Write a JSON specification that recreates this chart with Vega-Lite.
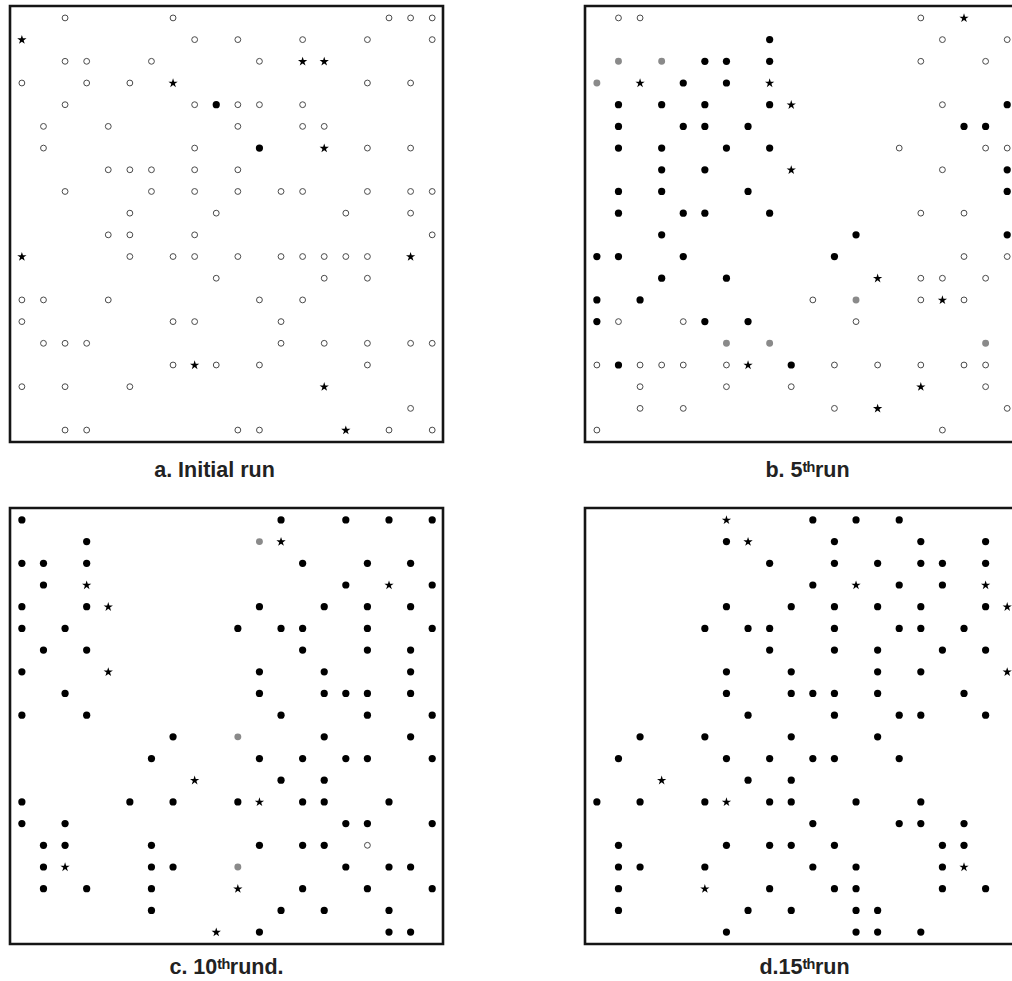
{
 "$schema": "https://vega.github.io/schema/vega-lite/v6.json",
 "padding": {"left": 8, "top": 4, "right": 0, "bottom": 0},
 "background": "white",
 "bounds": "flush",
 "columns": 2,
 "spacing": {"row": 66, "column": 142},
 "config": {
  "view": {"stroke": "#151515", "strokeWidth": 2.6},
  "title": {"font": "Liberation Sans", "fontSize": 21.5, "fontWeight": "bold", "color": "#222222", "orient": "bottom", "anchor": "middle", "baseline": "alphabetic"}
 },
 "datasets": {"pts": [
  {"p":"a","r":0,"c":2,"t":"o"},{"p":"a","r":0,"c":7,"t":"o"},{"p":"a","r":0,"c":17,"t":"o"},{"p":"a","r":0,"c":18,"t":"o"},{"p":"a","r":0,"c":19,"t":"o"},
  {"p":"a","r":1,"c":0,"t":"s"},{"p":"a","r":1,"c":8,"t":"o"},{"p":"a","r":1,"c":10,"t":"o"},{"p":"a","r":1,"c":13,"t":"o"},{"p":"a","r":1,"c":16,"t":"o"},{"p":"a","r":1,"c":19,"t":"o"},
  {"p":"a","r":2,"c":2,"t":"o"},{"p":"a","r":2,"c":3,"t":"o"},{"p":"a","r":2,"c":6,"t":"o"},{"p":"a","r":2,"c":11,"t":"o"},{"p":"a","r":2,"c":13,"t":"s"},{"p":"a","r":2,"c":14,"t":"s"},
  {"p":"a","r":3,"c":0,"t":"o"},{"p":"a","r":3,"c":3,"t":"o"},{"p":"a","r":3,"c":5,"t":"o"},{"p":"a","r":3,"c":7,"t":"s"},{"p":"a","r":3,"c":16,"t":"o"},{"p":"a","r":3,"c":18,"t":"o"},
  {"p":"a","r":4,"c":2,"t":"o"},{"p":"a","r":4,"c":8,"t":"o"},{"p":"a","r":4,"c":9,"t":"f"},{"p":"a","r":4,"c":10,"t":"o"},{"p":"a","r":4,"c":11,"t":"o"},{"p":"a","r":4,"c":13,"t":"o"},
  {"p":"a","r":5,"c":1,"t":"o"},{"p":"a","r":5,"c":4,"t":"o"},{"p":"a","r":5,"c":10,"t":"o"},{"p":"a","r":5,"c":13,"t":"o"},{"p":"a","r":5,"c":14,"t":"o"},
  {"p":"a","r":6,"c":1,"t":"o"},{"p":"a","r":6,"c":8,"t":"o"},{"p":"a","r":6,"c":11,"t":"f"},{"p":"a","r":6,"c":14,"t":"s"},{"p":"a","r":6,"c":16,"t":"o"},{"p":"a","r":6,"c":18,"t":"o"},
  {"p":"a","r":7,"c":4,"t":"o"},{"p":"a","r":7,"c":5,"t":"o"},{"p":"a","r":7,"c":6,"t":"o"},{"p":"a","r":7,"c":8,"t":"o"},{"p":"a","r":7,"c":10,"t":"o"},
  {"p":"a","r":8,"c":2,"t":"o"},{"p":"a","r":8,"c":6,"t":"o"},{"p":"a","r":8,"c":8,"t":"o"},{"p":"a","r":8,"c":10,"t":"o"},{"p":"a","r":8,"c":12,"t":"o"},{"p":"a","r":8,"c":13,"t":"o"},{"p":"a","r":8,"c":16,"t":"o"},{"p":"a","r":8,"c":18,"t":"o"},{"p":"a","r":8,"c":19,"t":"o"},
  {"p":"a","r":9,"c":5,"t":"o"},{"p":"a","r":9,"c":9,"t":"o"},{"p":"a","r":9,"c":15,"t":"o"},{"p":"a","r":9,"c":18,"t":"o"},
  {"p":"a","r":10,"c":4,"t":"o"},{"p":"a","r":10,"c":5,"t":"o"},{"p":"a","r":10,"c":8,"t":"o"},{"p":"a","r":10,"c":19,"t":"o"},
  {"p":"a","r":11,"c":0,"t":"s"},{"p":"a","r":11,"c":5,"t":"o"},{"p":"a","r":11,"c":7,"t":"o"},{"p":"a","r":11,"c":8,"t":"o"},{"p":"a","r":11,"c":10,"t":"o"},{"p":"a","r":11,"c":12,"t":"o"},{"p":"a","r":11,"c":13,"t":"o"},{"p":"a","r":11,"c":14,"t":"o"},{"p":"a","r":11,"c":15,"t":"o"},{"p":"a","r":11,"c":16,"t":"o"},{"p":"a","r":11,"c":18,"t":"s"},
  {"p":"a","r":12,"c":9,"t":"o"},{"p":"a","r":12,"c":14,"t":"o"},{"p":"a","r":12,"c":16,"t":"o"},
  {"p":"a","r":13,"c":0,"t":"o"},{"p":"a","r":13,"c":1,"t":"o"},{"p":"a","r":13,"c":4,"t":"o"},{"p":"a","r":13,"c":11,"t":"o"},{"p":"a","r":13,"c":13,"t":"o"},
  {"p":"a","r":14,"c":0,"t":"o"},{"p":"a","r":14,"c":7,"t":"o"},{"p":"a","r":14,"c":8,"t":"o"},{"p":"a","r":14,"c":12,"t":"o"},
  {"p":"a","r":15,"c":1,"t":"o"},{"p":"a","r":15,"c":2,"t":"o"},{"p":"a","r":15,"c":3,"t":"o"},{"p":"a","r":15,"c":12,"t":"o"},{"p":"a","r":15,"c":14,"t":"o"},{"p":"a","r":15,"c":16,"t":"o"},{"p":"a","r":15,"c":18,"t":"o"},{"p":"a","r":15,"c":19,"t":"o"},
  {"p":"a","r":16,"c":7,"t":"o"},{"p":"a","r":16,"c":8,"t":"s"},{"p":"a","r":16,"c":9,"t":"o"},{"p":"a","r":16,"c":11,"t":"o"},{"p":"a","r":16,"c":16,"t":"o"},
  {"p":"a","r":17,"c":0,"t":"o"},{"p":"a","r":17,"c":2,"t":"o"},{"p":"a","r":17,"c":5,"t":"o"},{"p":"a","r":17,"c":14,"t":"s"},
  {"p":"a","r":18,"c":18,"t":"o"},
  {"p":"a","r":19,"c":2,"t":"o"},{"p":"a","r":19,"c":3,"t":"o"},{"p":"a","r":19,"c":10,"t":"o"},{"p":"a","r":19,"c":11,"t":"o"},{"p":"a","r":19,"c":15,"t":"s"},{"p":"a","r":19,"c":17,"t":"o"},{"p":"a","r":19,"c":19,"t":"o"},

  {"p":"b","r":0,"c":1,"t":"o"},{"p":"b","r":0,"c":2,"t":"o"},{"p":"b","r":0,"c":15,"t":"o"},{"p":"b","r":0,"c":17,"t":"s"},
  {"p":"b","r":1,"c":8,"t":"f"},{"p":"b","r":1,"c":16,"t":"o"},{"p":"b","r":1,"c":19,"t":"o"},
  {"p":"b","r":2,"c":1,"t":"g"},{"p":"b","r":2,"c":3,"t":"g"},{"p":"b","r":2,"c":5,"t":"f"},{"p":"b","r":2,"c":6,"t":"f"},{"p":"b","r":2,"c":8,"t":"f"},{"p":"b","r":2,"c":15,"t":"o"},{"p":"b","r":2,"c":18,"t":"o"},
  {"p":"b","r":3,"c":0,"t":"g"},{"p":"b","r":3,"c":2,"t":"s"},{"p":"b","r":3,"c":4,"t":"f"},{"p":"b","r":3,"c":6,"t":"f"},{"p":"b","r":3,"c":8,"t":"s"},
  {"p":"b","r":4,"c":1,"t":"f"},{"p":"b","r":4,"c":3,"t":"f"},{"p":"b","r":4,"c":5,"t":"f"},{"p":"b","r":4,"c":8,"t":"f"},{"p":"b","r":4,"c":9,"t":"s"},{"p":"b","r":4,"c":16,"t":"o"},{"p":"b","r":4,"c":19,"t":"f"},
  {"p":"b","r":5,"c":1,"t":"f"},{"p":"b","r":5,"c":4,"t":"f"},{"p":"b","r":5,"c":5,"t":"f"},{"p":"b","r":5,"c":7,"t":"f"},{"p":"b","r":5,"c":17,"t":"f"},{"p":"b","r":5,"c":18,"t":"f"},
  {"p":"b","r":6,"c":1,"t":"f"},{"p":"b","r":6,"c":3,"t":"f"},{"p":"b","r":6,"c":6,"t":"f"},{"p":"b","r":6,"c":8,"t":"f"},{"p":"b","r":6,"c":14,"t":"o"},{"p":"b","r":6,"c":18,"t":"o"},{"p":"b","r":6,"c":19,"t":"o"},
  {"p":"b","r":7,"c":3,"t":"f"},{"p":"b","r":7,"c":5,"t":"f"},{"p":"b","r":7,"c":9,"t":"s"},{"p":"b","r":7,"c":16,"t":"o"},{"p":"b","r":7,"c":19,"t":"f"},
  {"p":"b","r":8,"c":1,"t":"f"},{"p":"b","r":8,"c":3,"t":"f"},{"p":"b","r":8,"c":7,"t":"f"},{"p":"b","r":8,"c":19,"t":"f"},
  {"p":"b","r":9,"c":1,"t":"f"},{"p":"b","r":9,"c":4,"t":"f"},{"p":"b","r":9,"c":5,"t":"f"},{"p":"b","r":9,"c":8,"t":"f"},{"p":"b","r":9,"c":15,"t":"o"},{"p":"b","r":9,"c":17,"t":"o"},
  {"p":"b","r":10,"c":3,"t":"f"},{"p":"b","r":10,"c":12,"t":"f"},{"p":"b","r":10,"c":19,"t":"f"},
  {"p":"b","r":11,"c":0,"t":"f"},{"p":"b","r":11,"c":1,"t":"f"},{"p":"b","r":11,"c":4,"t":"f"},{"p":"b","r":11,"c":11,"t":"f"},{"p":"b","r":11,"c":17,"t":"o"},{"p":"b","r":11,"c":19,"t":"o"},
  {"p":"b","r":12,"c":3,"t":"f"},{"p":"b","r":12,"c":6,"t":"f"},{"p":"b","r":12,"c":13,"t":"s"},{"p":"b","r":12,"c":15,"t":"o"},{"p":"b","r":12,"c":16,"t":"o"},{"p":"b","r":12,"c":18,"t":"o"},
  {"p":"b","r":13,"c":0,"t":"f"},{"p":"b","r":13,"c":2,"t":"f"},{"p":"b","r":13,"c":10,"t":"o"},{"p":"b","r":13,"c":12,"t":"g"},{"p":"b","r":13,"c":15,"t":"o"},{"p":"b","r":13,"c":16,"t":"s"},{"p":"b","r":13,"c":17,"t":"o"},
  {"p":"b","r":14,"c":0,"t":"f"},{"p":"b","r":14,"c":1,"t":"o"},{"p":"b","r":14,"c":4,"t":"o"},{"p":"b","r":14,"c":5,"t":"f"},{"p":"b","r":14,"c":7,"t":"f"},{"p":"b","r":14,"c":12,"t":"o"},
  {"p":"b","r":15,"c":6,"t":"g"},{"p":"b","r":15,"c":8,"t":"g"},{"p":"b","r":15,"c":18,"t":"g"},
  {"p":"b","r":16,"c":0,"t":"o"},{"p":"b","r":16,"c":1,"t":"f"},{"p":"b","r":16,"c":2,"t":"o"},{"p":"b","r":16,"c":3,"t":"o"},{"p":"b","r":16,"c":4,"t":"o"},{"p":"b","r":16,"c":6,"t":"o"},{"p":"b","r":16,"c":7,"t":"s"},{"p":"b","r":16,"c":9,"t":"f"},{"p":"b","r":16,"c":11,"t":"o"},{"p":"b","r":16,"c":13,"t":"o"},{"p":"b","r":16,"c":15,"t":"o"},{"p":"b","r":16,"c":17,"t":"o"},{"p":"b","r":16,"c":18,"t":"o"},
  {"p":"b","r":17,"c":2,"t":"o"},{"p":"b","r":17,"c":6,"t":"o"},{"p":"b","r":17,"c":9,"t":"o"},{"p":"b","r":17,"c":15,"t":"s"},{"p":"b","r":17,"c":18,"t":"o"},
  {"p":"b","r":18,"c":2,"t":"o"},{"p":"b","r":18,"c":4,"t":"o"},{"p":"b","r":18,"c":11,"t":"o"},{"p":"b","r":18,"c":13,"t":"s"},{"p":"b","r":18,"c":19,"t":"o"},
  {"p":"b","r":19,"c":0,"t":"o"},{"p":"b","r":19,"c":16,"t":"o"},

  {"p":"c","r":0,"c":0,"t":"f"},{"p":"c","r":0,"c":12,"t":"f"},{"p":"c","r":0,"c":15,"t":"f"},{"p":"c","r":0,"c":17,"t":"f"},{"p":"c","r":0,"c":19,"t":"f"},
  {"p":"c","r":1,"c":3,"t":"f"},{"p":"c","r":1,"c":11,"t":"g"},{"p":"c","r":1,"c":12,"t":"s"},
  {"p":"c","r":2,"c":0,"t":"f"},{"p":"c","r":2,"c":1,"t":"f"},{"p":"c","r":2,"c":3,"t":"f"},{"p":"c","r":2,"c":13,"t":"f"},{"p":"c","r":2,"c":16,"t":"f"},{"p":"c","r":2,"c":18,"t":"f"},
  {"p":"c","r":3,"c":1,"t":"f"},{"p":"c","r":3,"c":3,"t":"s"},{"p":"c","r":3,"c":15,"t":"f"},{"p":"c","r":3,"c":17,"t":"s"},{"p":"c","r":3,"c":19,"t":"f"},
  {"p":"c","r":4,"c":0,"t":"f"},{"p":"c","r":4,"c":3,"t":"f"},{"p":"c","r":4,"c":4,"t":"s"},{"p":"c","r":4,"c":11,"t":"f"},{"p":"c","r":4,"c":14,"t":"f"},{"p":"c","r":4,"c":16,"t":"f"},{"p":"c","r":4,"c":18,"t":"f"},
  {"p":"c","r":5,"c":0,"t":"f"},{"p":"c","r":5,"c":2,"t":"f"},{"p":"c","r":5,"c":10,"t":"f"},{"p":"c","r":5,"c":12,"t":"f"},{"p":"c","r":5,"c":13,"t":"f"},{"p":"c","r":5,"c":16,"t":"f"},{"p":"c","r":5,"c":19,"t":"f"},
  {"p":"c","r":6,"c":1,"t":"f"},{"p":"c","r":6,"c":3,"t":"f"},{"p":"c","r":6,"c":13,"t":"f"},{"p":"c","r":6,"c":16,"t":"f"},{"p":"c","r":6,"c":18,"t":"f"},
  {"p":"c","r":7,"c":0,"t":"f"},{"p":"c","r":7,"c":4,"t":"s"},{"p":"c","r":7,"c":11,"t":"f"},{"p":"c","r":7,"c":14,"t":"f"},{"p":"c","r":7,"c":18,"t":"f"},
  {"p":"c","r":8,"c":2,"t":"f"},{"p":"c","r":8,"c":11,"t":"f"},{"p":"c","r":8,"c":14,"t":"f"},{"p":"c","r":8,"c":15,"t":"f"},{"p":"c","r":8,"c":16,"t":"f"},{"p":"c","r":8,"c":18,"t":"f"},
  {"p":"c","r":9,"c":0,"t":"f"},{"p":"c","r":9,"c":3,"t":"f"},{"p":"c","r":9,"c":12,"t":"f"},{"p":"c","r":9,"c":16,"t":"f"},{"p":"c","r":9,"c":19,"t":"f"},
  {"p":"c","r":10,"c":7,"t":"f"},{"p":"c","r":10,"c":10,"t":"g"},{"p":"c","r":10,"c":14,"t":"f"},{"p":"c","r":10,"c":18,"t":"f"},
  {"p":"c","r":11,"c":6,"t":"f"},{"p":"c","r":11,"c":11,"t":"f"},{"p":"c","r":11,"c":13,"t":"f"},{"p":"c","r":11,"c":15,"t":"f"},{"p":"c","r":11,"c":16,"t":"f"},{"p":"c","r":11,"c":19,"t":"f"},
  {"p":"c","r":12,"c":8,"t":"s"},{"p":"c","r":12,"c":12,"t":"f"},{"p":"c","r":12,"c":14,"t":"f"},
  {"p":"c","r":13,"c":0,"t":"f"},{"p":"c","r":13,"c":5,"t":"f"},{"p":"c","r":13,"c":7,"t":"f"},{"p":"c","r":13,"c":10,"t":"f"},{"p":"c","r":13,"c":11,"t":"s"},{"p":"c","r":13,"c":13,"t":"f"},{"p":"c","r":13,"c":14,"t":"f"},{"p":"c","r":13,"c":17,"t":"f"},
  {"p":"c","r":14,"c":0,"t":"f"},{"p":"c","r":14,"c":2,"t":"f"},{"p":"c","r":14,"c":15,"t":"f"},{"p":"c","r":14,"c":16,"t":"f"},{"p":"c","r":14,"c":19,"t":"f"},
  {"p":"c","r":15,"c":1,"t":"f"},{"p":"c","r":15,"c":2,"t":"f"},{"p":"c","r":15,"c":6,"t":"f"},{"p":"c","r":15,"c":11,"t":"f"},{"p":"c","r":15,"c":13,"t":"f"},{"p":"c","r":15,"c":14,"t":"f"},{"p":"c","r":15,"c":16,"t":"o"},
  {"p":"c","r":16,"c":1,"t":"f"},{"p":"c","r":16,"c":2,"t":"s"},{"p":"c","r":16,"c":6,"t":"f"},{"p":"c","r":16,"c":7,"t":"f"},{"p":"c","r":16,"c":10,"t":"g"},{"p":"c","r":16,"c":15,"t":"f"},{"p":"c","r":16,"c":17,"t":"f"},{"p":"c","r":16,"c":18,"t":"f"},
  {"p":"c","r":17,"c":1,"t":"f"},{"p":"c","r":17,"c":3,"t":"f"},{"p":"c","r":17,"c":6,"t":"f"},{"p":"c","r":17,"c":10,"t":"s"},{"p":"c","r":17,"c":13,"t":"f"},{"p":"c","r":17,"c":16,"t":"f"},{"p":"c","r":17,"c":19,"t":"f"},
  {"p":"c","r":18,"c":6,"t":"f"},{"p":"c","r":18,"c":12,"t":"f"},{"p":"c","r":18,"c":14,"t":"f"},{"p":"c","r":18,"c":17,"t":"f"},
  {"p":"c","r":19,"c":9,"t":"s"},{"p":"c","r":19,"c":11,"t":"f"},{"p":"c","r":19,"c":17,"t":"f"},{"p":"c","r":19,"c":18,"t":"f"},

  {"p":"d","r":0,"c":6,"t":"s"},{"p":"d","r":0,"c":10,"t":"f"},{"p":"d","r":0,"c":12,"t":"f"},{"p":"d","r":0,"c":14,"t":"f"},
  {"p":"d","r":1,"c":6,"t":"f"},{"p":"d","r":1,"c":7,"t":"s"},{"p":"d","r":1,"c":11,"t":"f"},{"p":"d","r":1,"c":15,"t":"f"},{"p":"d","r":1,"c":18,"t":"f"},
  {"p":"d","r":2,"c":8,"t":"f"},{"p":"d","r":2,"c":11,"t":"f"},{"p":"d","r":2,"c":13,"t":"f"},{"p":"d","r":2,"c":15,"t":"f"},{"p":"d","r":2,"c":16,"t":"f"},{"p":"d","r":2,"c":18,"t":"f"},
  {"p":"d","r":3,"c":10,"t":"f"},{"p":"d","r":3,"c":12,"t":"s"},{"p":"d","r":3,"c":14,"t":"f"},{"p":"d","r":3,"c":16,"t":"f"},{"p":"d","r":3,"c":18,"t":"s"},
  {"p":"d","r":4,"c":6,"t":"f"},{"p":"d","r":4,"c":9,"t":"f"},{"p":"d","r":4,"c":11,"t":"f"},{"p":"d","r":4,"c":13,"t":"f"},{"p":"d","r":4,"c":15,"t":"f"},{"p":"d","r":4,"c":18,"t":"f"},{"p":"d","r":4,"c":19,"t":"s"},
  {"p":"d","r":5,"c":5,"t":"f"},{"p":"d","r":5,"c":7,"t":"f"},{"p":"d","r":5,"c":8,"t":"f"},{"p":"d","r":5,"c":11,"t":"f"},{"p":"d","r":5,"c":14,"t":"f"},{"p":"d","r":5,"c":15,"t":"f"},{"p":"d","r":5,"c":17,"t":"f"},
  {"p":"d","r":6,"c":8,"t":"f"},{"p":"d","r":6,"c":11,"t":"f"},{"p":"d","r":6,"c":13,"t":"f"},{"p":"d","r":6,"c":16,"t":"f"},{"p":"d","r":6,"c":18,"t":"f"},
  {"p":"d","r":7,"c":6,"t":"f"},{"p":"d","r":7,"c":9,"t":"f"},{"p":"d","r":7,"c":13,"t":"f"},{"p":"d","r":7,"c":15,"t":"f"},{"p":"d","r":7,"c":19,"t":"s"},
  {"p":"d","r":8,"c":6,"t":"f"},{"p":"d","r":8,"c":9,"t":"f"},{"p":"d","r":8,"c":10,"t":"f"},{"p":"d","r":8,"c":11,"t":"f"},{"p":"d","r":8,"c":13,"t":"f"},{"p":"d","r":8,"c":17,"t":"f"},
  {"p":"d","r":9,"c":7,"t":"f"},{"p":"d","r":9,"c":11,"t":"f"},{"p":"d","r":9,"c":14,"t":"f"},{"p":"d","r":9,"c":15,"t":"f"},{"p":"d","r":9,"c":18,"t":"f"},
  {"p":"d","r":10,"c":2,"t":"f"},{"p":"d","r":10,"c":5,"t":"f"},{"p":"d","r":10,"c":9,"t":"f"},{"p":"d","r":10,"c":13,"t":"f"},
  {"p":"d","r":11,"c":1,"t":"f"},{"p":"d","r":11,"c":6,"t":"f"},{"p":"d","r":11,"c":8,"t":"f"},{"p":"d","r":11,"c":10,"t":"f"},{"p":"d","r":11,"c":11,"t":"f"},{"p":"d","r":11,"c":14,"t":"f"},
  {"p":"d","r":12,"c":3,"t":"s"},{"p":"d","r":12,"c":7,"t":"f"},{"p":"d","r":12,"c":9,"t":"f"},
  {"p":"d","r":13,"c":0,"t":"f"},{"p":"d","r":13,"c":2,"t":"f"},{"p":"d","r":13,"c":5,"t":"f"},{"p":"d","r":13,"c":6,"t":"s"},{"p":"d","r":13,"c":8,"t":"f"},{"p":"d","r":13,"c":9,"t":"f"},{"p":"d","r":13,"c":12,"t":"f"},{"p":"d","r":13,"c":15,"t":"f"},
  {"p":"d","r":14,"c":10,"t":"f"},{"p":"d","r":14,"c":14,"t":"f"},{"p":"d","r":14,"c":15,"t":"f"},{"p":"d","r":14,"c":17,"t":"f"},
  {"p":"d","r":15,"c":1,"t":"f"},{"p":"d","r":15,"c":6,"t":"f"},{"p":"d","r":15,"c":8,"t":"f"},{"p":"d","r":15,"c":9,"t":"f"},{"p":"d","r":15,"c":11,"t":"f"},{"p":"d","r":15,"c":16,"t":"f"},{"p":"d","r":15,"c":17,"t":"f"},
  {"p":"d","r":16,"c":1,"t":"f"},{"p":"d","r":16,"c":2,"t":"f"},{"p":"d","r":16,"c":5,"t":"f"},{"p":"d","r":16,"c":10,"t":"f"},{"p":"d","r":16,"c":12,"t":"f"},{"p":"d","r":16,"c":16,"t":"f"},{"p":"d","r":16,"c":17,"t":"s"},
  {"p":"d","r":17,"c":1,"t":"f"},{"p":"d","r":17,"c":5,"t":"s"},{"p":"d","r":17,"c":8,"t":"f"},{"p":"d","r":17,"c":11,"t":"f"},{"p":"d","r":17,"c":12,"t":"f"},{"p":"d","r":17,"c":16,"t":"f"},{"p":"d","r":17,"c":18,"t":"f"},
  {"p":"d","r":18,"c":1,"t":"f"},{"p":"d","r":18,"c":7,"t":"f"},{"p":"d","r":18,"c":9,"t":"f"},{"p":"d","r":18,"c":12,"t":"f"},{"p":"d","r":18,"c":13,"t":"f"},
  {"p":"d","r":19,"c":6,"t":"f"},{"p":"d","r":19,"c":12,"t":"f"},{"p":"d","r":19,"c":13,"t":"f"},{"p":"d","r":19,"c":15,"t":"f"}
 ]},
 "concat": [
   {"width": 433, "height": 436, "data": {"name": "pts"}, "transform": [{"filter": "datum.p == 'a'"}],
    "title": {"text": "a. Initial run", "offset": 18, "dx": -12},
    "mark": {"type": "point", "filled": true, "opacity": 1},
    "encoding": {
     "x": {"field": "c", "type": "quantitative", "scale": {"domain": [-0.55, 19.5], "nice": false, "zero": false}, "axis": null},
     "y": {"field": "r", "type": "quantitative", "scale": {"domain": [-0.55, 19.55], "reverse": true, "nice": false, "zero": false}, "axis": null},
     "shape": {"field": "t", "type": "nominal", "scale": {"domain": ["o","f","g","s"], "range": ["circle","circle","circle","M0,-0.95L0.2245,-0.259L0.951,-0.259L0.363,0.168L0.588,0.859L0,0.432L-0.588,0.859L-0.363,0.168L-0.951,-0.259L-0.2245,-0.259Z"]}, "legend": null},
     "fill": {"field": "t", "type": "nominal", "scale": {"domain": ["o","f","g","s"], "range": ["white","black","#8a8a8a","black"]}, "legend": null},
     "stroke": {"field": "t", "type": "nominal", "scale": {"domain": ["o","f","g","s"], "range": ["#4a4a4a","black","#8a8a8a","black"]}, "legend": null},
     "strokeWidth": {"field": "t", "type": "nominal", "scale": {"type": "ordinal", "domain": ["o","f","g","s"], "range": [1, 0, 0, 0]}, "legend": null},
     "size": {"field": "t", "type": "nominal", "scale": {"type": "ordinal", "domain": ["o","f","g","s"], "range": [34, 52, 48, 95]}, "legend": null}
    }},
   {"width": 433, "height": 436, "data": {"name": "pts"}, "transform": [{"filter": "datum.p == 'b'"}],
    "title": {"text": "b. 5ᵗʰrun", "offset": 18, "dx": 6},
    "mark": {"type": "point", "filled": true, "opacity": 1},
    "encoding": {
     "x": {"field": "c", "type": "quantitative", "scale": {"domain": [-0.55, 19.5], "nice": false, "zero": false}, "axis": null},
     "y": {"field": "r", "type": "quantitative", "scale": {"domain": [-0.55, 19.55], "reverse": true, "nice": false, "zero": false}, "axis": null},
     "shape": {"field": "t", "type": "nominal", "scale": {"domain": ["o","f","g","s"], "range": ["circle","circle","circle","M0,-0.95L0.2245,-0.259L0.951,-0.259L0.363,0.168L0.588,0.859L0,0.432L-0.588,0.859L-0.363,0.168L-0.951,-0.259L-0.2245,-0.259Z"]}, "legend": null},
     "fill": {"field": "t", "type": "nominal", "scale": {"domain": ["o","f","g","s"], "range": ["white","black","#8a8a8a","black"]}, "legend": null},
     "stroke": {"field": "t", "type": "nominal", "scale": {"domain": ["o","f","g","s"], "range": ["#4a4a4a","black","#8a8a8a","black"]}, "legend": null},
     "strokeWidth": {"field": "t", "type": "nominal", "scale": {"type": "ordinal", "domain": ["o","f","g","s"], "range": [1, 0, 0, 0]}, "legend": null},
     "size": {"field": "t", "type": "nominal", "scale": {"type": "ordinal", "domain": ["o","f","g","s"], "range": [34, 52, 48, 95]}, "legend": null}
    }},
   {"width": 433, "height": 436, "data": {"name": "pts"}, "transform": [{"filter": "datum.p == 'c'"}],
    "title": {"text": "c. 10ᵗʰrund.", "offset": 13, "dx": 0},
    "mark": {"type": "point", "filled": true, "opacity": 1},
    "encoding": {
     "x": {"field": "c", "type": "quantitative", "scale": {"domain": [-0.55, 19.5], "nice": false, "zero": false}, "axis": null},
     "y": {"field": "r", "type": "quantitative", "scale": {"domain": [-0.55, 19.55], "reverse": true, "nice": false, "zero": false}, "axis": null},
     "shape": {"field": "t", "type": "nominal", "scale": {"domain": ["o","f","g","s"], "range": ["circle","circle","circle","M0,-0.95L0.2245,-0.259L0.951,-0.259L0.363,0.168L0.588,0.859L0,0.432L-0.588,0.859L-0.363,0.168L-0.951,-0.259L-0.2245,-0.259Z"]}, "legend": null},
     "fill": {"field": "t", "type": "nominal", "scale": {"domain": ["o","f","g","s"], "range": ["white","black","#8a8a8a","black"]}, "legend": null},
     "stroke": {"field": "t", "type": "nominal", "scale": {"domain": ["o","f","g","s"], "range": ["#4a4a4a","black","#8a8a8a","black"]}, "legend": null},
     "strokeWidth": {"field": "t", "type": "nominal", "scale": {"type": "ordinal", "domain": ["o","f","g","s"], "range": [1, 0, 0, 0]}, "legend": null},
     "size": {"field": "t", "type": "nominal", "scale": {"type": "ordinal", "domain": ["o","f","g","s"], "range": [34, 52, 48, 95]}, "legend": null}
    }},
   {"width": 433, "height": 436, "data": {"name": "pts"}, "transform": [{"filter": "datum.p == 'd'"}],
    "title": {"text": "d.15ᵗʰrun", "offset": 13, "dx": 3},
    "mark": {"type": "point", "filled": true, "opacity": 1},
    "encoding": {
     "x": {"field": "c", "type": "quantitative", "scale": {"domain": [-0.55, 19.5], "nice": false, "zero": false}, "axis": null},
     "y": {"field": "r", "type": "quantitative", "scale": {"domain": [-0.55, 19.55], "reverse": true, "nice": false, "zero": false}, "axis": null},
     "shape": {"field": "t", "type": "nominal", "scale": {"domain": ["o","f","g","s"], "range": ["circle","circle","circle","M0,-0.95L0.2245,-0.259L0.951,-0.259L0.363,0.168L0.588,0.859L0,0.432L-0.588,0.859L-0.363,0.168L-0.951,-0.259L-0.2245,-0.259Z"]}, "legend": null},
     "fill": {"field": "t", "type": "nominal", "scale": {"domain": ["o","f","g","s"], "range": ["white","black","#8a8a8a","black"]}, "legend": null},
     "stroke": {"field": "t", "type": "nominal", "scale": {"domain": ["o","f","g","s"], "range": ["#4a4a4a","black","#8a8a8a","black"]}, "legend": null},
     "strokeWidth": {"field": "t", "type": "nominal", "scale": {"type": "ordinal", "domain": ["o","f","g","s"], "range": [1, 0, 0, 0]}, "legend": null},
     "size": {"field": "t", "type": "nominal", "scale": {"type": "ordinal", "domain": ["o","f","g","s"], "range": [34, 52, 48, 95]}, "legend": null}
    }}
 ]
}
